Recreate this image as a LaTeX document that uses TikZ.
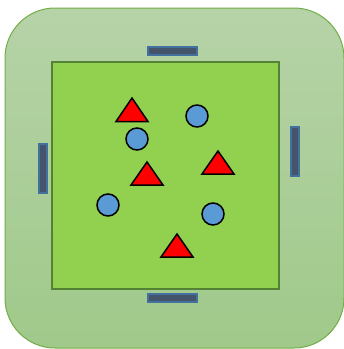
\documentclass[tikz,border=0pt]{standalone}
\begin{document}
\begin{tikzpicture}[x=1pt,y=-1pt,
  goal/.style={draw=goalborder,fill=goalfill,line width=2pt},
  player/.style={circle,draw=black,fill=playerblue,line width=1.5pt,minimum size=22pt,inner sep=0pt},
  cone/.style={draw=black,fill=red,line width=1.5pt,line join=miter}]
\definecolor{outertop}{RGB}{182,211,168}
\definecolor{outerbot}{RGB}{160,201,138}
\definecolor{outerborder}{RGB}{112,173,71}
\definecolor{pitch}{RGB}{146,208,80}
\definecolor{pitchborder}{RGB}{84,130,53}
\definecolor{goalborder}{RGB}{65,113,156}
\definecolor{goalfill}{RGB}{68,84,106}
\definecolor{playerblue}{RGB}{91,155,213}
\useasboundingbox (0,0) rectangle (344,349);
\shade[top color=outertop,bottom color=outerbot,draw=outerborder,line width=1pt,rounded corners=50pt]
  (5,8) rectangle (344,348);
\draw[fill=pitch,draw=pitchborder,line width=2pt] (52,62) rectangle (279,289);
\draw[goal] (148,47) rectangle (197,55);
\draw[goal] (148,294) rectangle (197,302);
\draw[goal] (39,144) rectangle (47,193);
\draw[goal] (291,127) rectangle (299,176);
\node[player] (c1) at (197,116) {};
\node[player] (c2) at (137,139) {};
\node[player] (c3) at (108,205) {};
\node[player] (c4) at (213,214) {};
\draw[cone] (132,98) -- (148,121.5) -- (116,121.5) -- cycle;
\draw[cone] (147,162) -- (163,185) -- (131,185) -- cycle;
\draw[cone] (218,151) -- (234,174) -- (202,174) -- cycle;
\draw[cone] (177,234) -- (193,257) -- (161,257) -- cycle;
\end{tikzpicture}
\end{document}
